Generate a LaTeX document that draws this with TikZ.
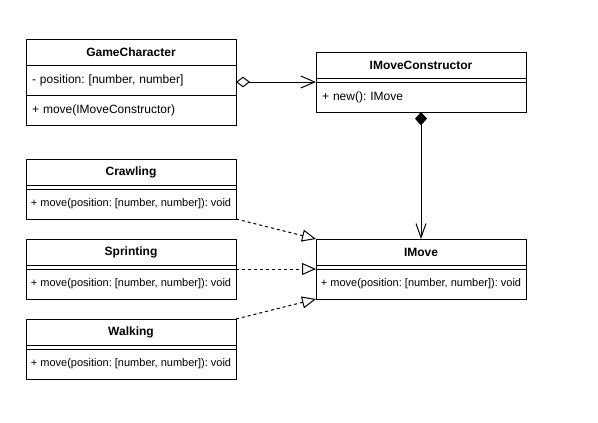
\documentclass[tikz,border=0pt]{standalone}
\usepackage{fontspec}
\setmainfont{Liberation Sans}
\frenchspacing
\usetikzlibrary{positioning,arrows.meta}

\begin{document}
\begin{tikzpicture}[
        x=0.75pt, y=-0.75pt,
        line width=0.75pt,
        node distance=0pt,
        classname/.style={rectangle, draw, outer sep=0pt, anchor=north west, minimum width=157.5pt, minimum height=19.5pt, inner sep=0pt, font=\fontsize{9}{11}\selectfont\bfseries},
        member/.style={rectangle, draw, outer sep=0pt, minimum width=157.5pt, minimum height=22.5pt, text width=148.5pt, inner xsep=4.5pt, inner ysep=0pt, align=left, font=\fontsize{9}{11}\selectfont},
        smallmember/.style={rectangle, draw, outer sep=0pt, minimum width=157.5pt, minimum height=22.5pt, inner sep=0pt, font=\fontsize{8.25}{10}\selectfont},
        nomember/.style={rectangle, draw, outer sep=0pt, minimum width=157.5pt, minimum height=3pt, inner sep=0pt},
        aggregation/.style={{Diamond[open,length=10.5pt,width=8pt]}-{Straight Barb[length=10.5pt,width=9pt]}},
        composition/.style={{Diamond[length=10pt,width=9pt]}-{Straight Barb[length=10.5pt,width=7.5pt]}},
        realization/.style={-{Triangle[open,length=10.5pt,width=9pt]}, dash pattern=on 2.25pt off 2.25pt}
    ]
    \useasboundingbox (0,0) rectangle (598,422);

    % GameCharacter
    \node[classname] (gc) at (26,39) {GameCharacter};
    \node[member, below=of gc] (gcAttr) {- position: [number, number]};
    \node[member, below=of gcAttr] (gcOps) {+ move(IMoveConstructor)};

    % IMoveConstructor
    \node[classname] (imc) at (316,52) {IMoveConstructor};
    \node[nomember, below=of imc] (imcAttr) {};
    \node[member, below=of imcAttr] (imcOps) {+ new(): IMove};

    % Strategien
    \node[classname] (crawl) at (26,159) {Crawling};
    \node[nomember, below=of crawl] (crawlAttr) {};
    \node[smallmember, below=of crawlAttr] (crawlOps) {+ move(position: [number, number]): void};

    \node[classname] (sprint) at (26,239) {Sprinting};
    \node[nomember, below=of sprint] (sprintAttr) {};
    \node[smallmember, below=of sprintAttr] (sprintOps) {+ move(position: [number, number]): void};

    \node[classname] (walk) at (26,319) {Walking};
    \node[nomember, below=of walk] (walkAttr) {};
    \node[smallmember, below=of walkAttr] (walkOps) {+ move(position: [number, number]): void};

    % IMove
    \node[classname] (im) at (316,239) {IMove};
    \node[nomember, below=of im] (imAttr) {};
    \node[smallmember, below=of imAttr] (imOps) {+ move(position: [number, number]): void};

    % Beziehungen
    \draw[aggregation] (imcAttr.south west -| gcAttr.east) -- (imcAttr.south west);
    \draw[composition] (imcOps.south) -- (im.north);

    \draw[realization] (crawlOps.south east) -- (im.north west);
    \draw[realization] (sprintAttr.south east) -- (imAttr.south west);
    \draw[realization] (walk.north east) -- (imOps.south west);

\end{tikzpicture}
\end{document}
